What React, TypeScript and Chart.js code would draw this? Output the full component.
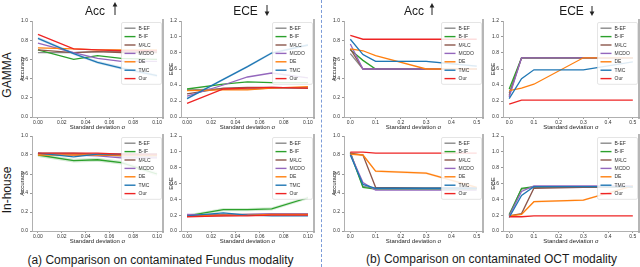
import React, { useEffect, useRef } from "react";
import { Chart, registerables } from "chart.js";

Chart.register(...registerables);
Chart.defaults.font.family = "'Liberation Sans', Arial, sans-serif";

// ---------- data ----------
const METHODS = ["B-EF", "B-IF", "M²LC", "MCDO", "DE", "TMC", "Our"];
const METHOD_COLORS = ["#8a8a8a", "#2ca02c", "#8c564b", "#9467bd", "#ff7f0e", "#1f77b4", "#ee2424"];
const BAND_COLORS = [
  "rgba(138,138,138,0.2)", "rgba(44,160,44,0.2)", "rgba(140,86,75,0.2)", "rgba(148,103,189,0.2)",
  "rgba(255,127,14,0.2)", "rgba(31,119,180,0.2)", "rgba(238,36,36,0.2)",
];

const FUNDUS_SIGMA = [0, 0.03, 0.05, 0.07, 0.1];
const OCT_SIGMA = [0, 0.05, 0.1, 0.3, 0.5];
const FUNDUS_TICKS = [0, 0.02, 0.04, 0.06, 0.08, 0.1];
const OCT_TICKS = [0, 0.1, 0.2, 0.3, 0.4, 0.5];
const ACC_TICKS = [0, 0.2, 0.4, 0.6, 0.8, 1.0];
const ECE_TICKS = [0, 0.2, 0.4, 0.6, 0.8, 1.0, 1.2];

// rows follow METHODS: B-EF, B-IF, M²LC, MCDO, DE, TMC, Our
const GAMMA_FUNDUS_ACC = [
  [0.67, 0.67, 0.68, 0.68, 0.68],
  [0.70, 0.60, 0.64, 0.61, 0.60],
  [0.70, 0.67, 0.68, 0.67, 0.67],
  [0.77, 0.67, 0.61, 0.58, 0.58],
  [0.72, 0.71, 0.70, 0.70, 0.70],
  [0.82, 0.66, 0.57, 0.51, 0.43],
  [0.86, 0.71, 0.70, 0.69, 0.69],
];
const GAMMA_FUNDUS_ECE = [
  [0.34, 0.35, 0.35, 0.36, 0.36],
  [0.35, 0.41, 0.44, 0.43, 0.43],
  [0.29, 0.36, 0.37, 0.37, 0.36],
  [0.26, 0.40, 0.50, 0.55, 0.49],
  [0.33, 0.34, 0.34, 0.36, 0.38],
  [0.23, 0.47, 0.63, 0.80, 0.90],
  [0.17, 0.35, 0.36, 0.37, 0.36],
];
const GAMMA_OCT_ACC = [
  [0.66, 0.50, 0.50, 0.50, 0.50],
  [0.70, 0.59, 0.50, 0.50, 0.50],
  [0.71, 0.50, 0.50, 0.50, 0.50],
  [0.76, 0.50, 0.50, 0.50, 0.50],
  [0.71, 0.69, 0.64, 0.50, 0.50],
  [0.81, 0.65, 0.58, 0.58, 0.53],
  [0.85, 0.81, 0.81, 0.81, 0.81],
];
const GAMMA_OCT_ECE = [
  [0.30, 0.74, 0.74, 0.74, 0.74],
  [0.35, 0.74, 0.74, 0.74, 0.74],
  [0.27, 0.74, 0.74, 0.74, 0.74],
  [0.25, 0.74, 0.74, 0.74, 0.74],
  [0.33, 0.36, 0.41, 0.74, 0.74],
  [0.23, 0.48, 0.59, 0.59, 0.69],
  [0.16, 0.21, 0.21, 0.21, 0.21],
];
const INHOUSE_FUNDUS_ACC = [
  [0.82, 0.82, 0.81, 0.81, 0.80],
  [0.80, 0.74, 0.75, 0.72, 0.60],
  [0.81, 0.81, 0.80, 0.79, 0.79],
  [0.81, 0.80, 0.79, 0.77, 0.77],
  [0.80, 0.80, 0.80, 0.80, 0.80],
  [0.82, 0.78, 0.81, 0.81, 0.81],
  [0.82, 0.82, 0.82, 0.81, 0.81],
];
const INHOUSE_FUNDUS_ECE = [
  [0.19, 0.19, 0.20, 0.21, 0.21],
  [0.19, 0.27, 0.27, 0.28, 0.42],
  [0.20, 0.21, 0.21, 0.21, 0.21],
  [0.21, 0.20, 0.21, 0.22, 0.22],
  [0.19, 0.20, 0.20, 0.21, 0.21],
  [0.19, 0.23, 0.20, 0.19, 0.19],
  [0.18, 0.19, 0.19, 0.20, 0.20],
];
const INHOUSE_OCT_ACC = [
  [0.83, 0.47, 0.45, 0.45, 0.45],
  [0.82, 0.46, 0.44, 0.44, 0.44],
  [0.82, 0.80, 0.46, 0.45, 0.45],
  [0.81, 0.51, 0.43, 0.43, 0.43],
  [0.81, 0.80, 0.63, 0.61, 0.46],
  [0.80, 0.49, 0.45, 0.45, 0.45],
  [0.83, 0.83, 0.82, 0.82, 0.82],
];
const INHOUSE_OCT_ECE = [
  [0.21, 0.53, 0.55, 0.55, 0.55],
  [0.20, 0.54, 0.56, 0.56, 0.56],
  [0.19, 0.22, 0.54, 0.55, 0.56],
  [0.19, 0.50, 0.57, 0.57, 0.57],
  [0.19, 0.21, 0.37, 0.39, 0.57],
  [0.17, 0.45, 0.56, 0.56, 0.56],
  [0.18, 0.18, 0.19, 0.19, 0.19],
];

const X_TITLE = "Standard deviation σ";

// ---------- layout ----------
const YW = 16; // y-axis box width
const XH = 14; // x-axis box height
const PT = 4;
const PR = 6;

type Panel = {
  area: number[];
  sigma: number[];
  xRange: number[];
  xTicks: number[];
  xDigits: number;
  yMax: number;
  yTicks: number[];
  yTitle: string;
  values: number[][];
  band?: { index: number; w: number };
};

const FUND = { sigma: FUNDUS_SIGMA, xRange: [-0.005, 0.105], xTicks: FUNDUS_TICKS, xDigits: 2 };
const OCT = { sigma: OCT_SIGMA, xRange: [-0.025, 0.525], xTicks: OCT_TICKS, xDigits: 1 };
const ACC = { yMax: 1.0, yTicks: ACC_TICKS, yTitle: "Accuracy" };
const ECE = { yMax: 1.2, yTicks: ECE_TICKS, yTitle: "ECE" };

const PANELS: Panel[] = [
  { area: [32, 20, 163, 117], ...FUND, ...ACC, values: GAMMA_FUNDUS_ACC, band: { index: 5, w: 0.015 } },
  { area: [181, 20, 314, 117], ...FUND, ...ECE, values: GAMMA_FUNDUS_ECE, band: { index: 5, w: 0.015 } },
  { area: [344, 20, 483, 117], ...OCT, ...ACC, values: GAMMA_OCT_ACC, band: { index: 5, w: 0.008 } },
  { area: [503, 20, 639, 117], ...OCT, ...ECE, values: GAMMA_OCT_ECE },
  { area: [32, 135, 163, 231], ...FUND, ...ACC, values: INHOUSE_FUNDUS_ACC, band: { index: 1, w: 0.02 } },
  { area: [181, 135, 314, 231], ...FUND, ...ECE, values: INHOUSE_FUNDUS_ECE, band: { index: 1, w: 0.02 } },
  { area: [344, 135, 483, 231], ...OCT, ...ACC, values: INHOUSE_OCT_ACC, band: { index: 4, w: 0.012 } },
  { area: [503, 135, 639, 231], ...OCT, ...ECE, values: INHOUSE_OCT_ECE, band: { index: 4, w: 0.012 } },
];

// ---------- plugin: bands, right frame, legend ----------
const overlayPlugin = {
  id: "overlay",
  beforeDatasetsDraw(chart: any, _args: any, opts: any) {
    const b = opts.band;
    if (!b) return;
    const { ctx, chartArea: a } = chart;
    const xs = chart.scales.x;
    const ys = chart.scales.y;
    const pts = chart.data.datasets[b.index].data as { x: number; y: number }[];
    ctx.save();
    ctx.beginPath();
    ctx.rect(a.left, a.top, a.right - a.left, a.bottom - a.top);
    ctx.clip();
    ctx.beginPath();
    pts.forEach((p, k) => {
      const px = xs.getPixelForValue(p.x);
      const py = ys.getPixelForValue(p.y + b.w);
      if (k === 0) ctx.moveTo(px, py);
      else ctx.lineTo(px, py);
    });
    for (let k = pts.length - 1; k >= 0; k--) {
      ctx.lineTo(xs.getPixelForValue(pts[k].x), ys.getPixelForValue(pts[k].y - b.w));
    }
    ctx.closePath();
    ctx.fillStyle = BAND_COLORS[b.index];
    ctx.fill();
    ctx.restore();
  },
  afterDatasetsDraw(chart: any) {
    const { ctx, chartArea: a } = chart;
    ctx.save();
    // right frame
    ctx.strokeStyle = "#a4a4a4";
    ctx.lineWidth = 1.6;
    ctx.beginPath();
    ctx.moveTo(a.right, a.top - 2);
    ctx.lineTo(a.right, a.bottom + 2);
    ctx.stroke();
    // legend
    const dsets = chart.data.datasets;
    const rowH = 8.4;
    const w = 40;
    const h = dsets.length * rowH + 3;
    const x0 = a.right - w - 1.5;
    const y0 = a.top + 1.5;
    ctx.fillStyle = "rgba(255,255,255,0.85)";
    ctx.strokeStyle = "#d4d4d4";
    ctx.lineWidth = 0.6;
    ctx.beginPath();
    if (ctx.roundRect) ctx.roundRect(x0, y0, w, h, 1.5);
    else ctx.rect(x0, y0, w, h);
    ctx.fill();
    ctx.stroke();
    ctx.font = "5px 'Liberation Sans', Arial, sans-serif";
    ctx.textBaseline = "middle";
    ctx.textAlign = "left";
    dsets.forEach((ds: any, i: number) => {
      const cy = y0 + 5.7 + i * rowH;
      ctx.strokeStyle = ds.borderColor;
      ctx.lineWidth = 1.4;
      ctx.beginPath();
      ctx.moveTo(x0 + 3, cy);
      ctx.lineTo(x0 + 14, cy);
      ctx.stroke();
      ctx.fillStyle = "#333";
      ctx.fillText(ds.label, x0 + 17, cy + 0.3);
    });
    ctx.restore();
  },
};

function buildConfig(p: Panel): any {
  return {
    type: "line",
    data: {
      datasets: METHODS.map((m, i) => ({
        label: m,
        data: p.sigma.map((s, k) => ({ x: s, y: p.values[i][k] })),
        borderColor: METHOD_COLORS[i],
        backgroundColor: METHOD_COLORS[i],
        borderWidth: 1.3,
        pointRadius: 0,
        tension: 0,
        fill: false,
        order: METHODS.length - i,
      })),
    },
    plugins: [overlayPlugin],
    options: {
      animation: false,
      responsive: false,
      maintainAspectRatio: false,
      events: [],
      layout: { padding: { left: 0, top: PT, right: PR, bottom: 0 } },
      plugins: {
        legend: { display: false },
        tooltip: { enabled: false },
        overlay: { band: p.band },
      },
      scales: {
        x: {
          type: "linear",
          min: p.xRange[0],
          max: p.xRange[1],
          afterBuildTicks: (s: any) => {
            s.ticks = p.xTicks.map((v) => ({ value: v }));
          },
          afterFit: (s: any) => {
            s.height = XH;
          },
          ticks: {
            callback: (v: any) => Number(v).toFixed(p.xDigits),
            font: { size: 5 },
            color: "#333",
            padding: 1,
            maxRotation: 0,
            autoSkip: false,
          },
          grid: { drawOnChartArea: false, tickLength: 2, color: "#999" },
          border: { color: "#b0b0b0" },
          title: { display: true, text: X_TITLE, font: { size: 6 }, color: "#222", padding: 0 },
        },
        y: {
          type: "linear",
          min: 0,
          max: p.yMax,
          afterBuildTicks: (s: any) => {
            s.ticks = p.yTicks.map((v) => ({ value: v }));
          },
          afterFit: (s: any) => {
            s.width = YW;
          },
          ticks: {
            callback: (v: any) => Number(v).toFixed(1),
            font: { size: 5 },
            color: "#333",
            padding: 2,
            autoSkip: false,
          },
          grid: { drawOnChartArea: false, tickLength: 2, color: "#999" },
          border: { color: "#b0b0b0" },
          title: { display: true, text: p.yTitle, font: { size: 6 }, color: "#222", padding: { top: 3, bottom: 0 } },
        },
      },
    },
  };
}

function ChartPanel({ panel }: { panel: Panel }) {
  const ref = useRef<HTMLCanvasElement | null>(null);
  const [x0, y0, x1, y1] = panel.area;
  const left = x0 - YW;
  const top = y0 - PT;
  const width = x1 - x0 + YW + PR;
  const height = y1 - y0 + PT + XH;
  useEffect(() => {
    if (!ref.current) return;
    const chart = new Chart(ref.current, buildConfig(panel));
    return () => chart.destroy();
  }, [panel]);
  return (
    <canvas
      ref={ref}
      width={width}
      height={height}
      style={{ position: "absolute", left, top, width, height }}
    />
  );
}

const FONT = "'Liberation Sans', Arial, sans-serif";

function Label({ x, y, text, size, rotate }: { x: number; y: number; text: string; size: number; rotate?: boolean }) {
  return (
    <div
      style={{
        position: "absolute",
        left: x,
        top: y,
        transform: `translate(-50%, -50%)${rotate ? " rotate(-90deg)" : ""}`,
        fontFamily: FONT,
        fontSize: size,
        lineHeight: 1,
        whiteSpace: "nowrap",
        color: "#1a1a1a",
      }}
    >
      {text}
    </div>
  );
}

function Arrow({ x, y0, y1, up }: { x: number; y0: number; y1: number; up: boolean }) {
  const h = y1 - y0;
  return (
    <svg style={{ position: "absolute", left: x - 4, top: y0 }} width={8} height={h}>
      {up ? (
        <>
          <line x1={4} y1={3} x2={4} y2={h} stroke="#222" strokeWidth={1} />
          <polygon points={`4,0 1.6,4.5 6.4,4.5`} fill="#222" />
        </>
      ) : (
        <>
          <line x1={4} y1={0} x2={4} y2={h - 3} stroke="#222" strokeWidth={1} />
          <polygon points={`4,${h} 1.6,${h - 4.5} 6.4,${h - 4.5}`} fill="#222" />
        </>
      )}
    </svg>
  );
}

export default function App() {
  return (
    <div
      style={{
        position: "fixed",
        left: 0,
        top: 0,
        width: 640,
        height: 267,
        overflow: "hidden",
        background: "#fff",
      }}
    >
      {PANELS.map((p, i) => (
        <ChartPanel key={i} panel={p} />
      ))}
      <Label x={95} y={11} text="Acc" size={12} />
      <Arrow x={115} y0={2} y1={15} up={true} />
      <Label x={245.5} y={11} text="ECE" size={12} />
      <Arrow x={267} y0={5} y1={16} up={false} />
      <Label x={414} y={11} text="Acc" size={12} />
      <Arrow x={432} y0={3} y1={15} up={true} />
      <Label x={571.5} y={11} text="ECE" size={12} />
      <Arrow x={592} y0={6} y1={16} up={false} />
      <Label x={7} y={75} text="GAMMA" size={12} rotate={true} />
      <Label x={7} y={190} text="In-house" size={12} rotate={true} />
      <Label x={160.5} y={260} text="(a) Comparison on contaminated Fundus modality" size={12} />
      <Label x={491.5} y={258.5} text="(b) Comparison on contaminated OCT modality" size={12} />
      <div
        style={{
          position: "absolute",
          left: 321,
          top: 0,
          width: 0,
          height: 267,
          borderLeft: "1px dashed #7b9bd8",
        }}
      />
    </div>
  );
}
